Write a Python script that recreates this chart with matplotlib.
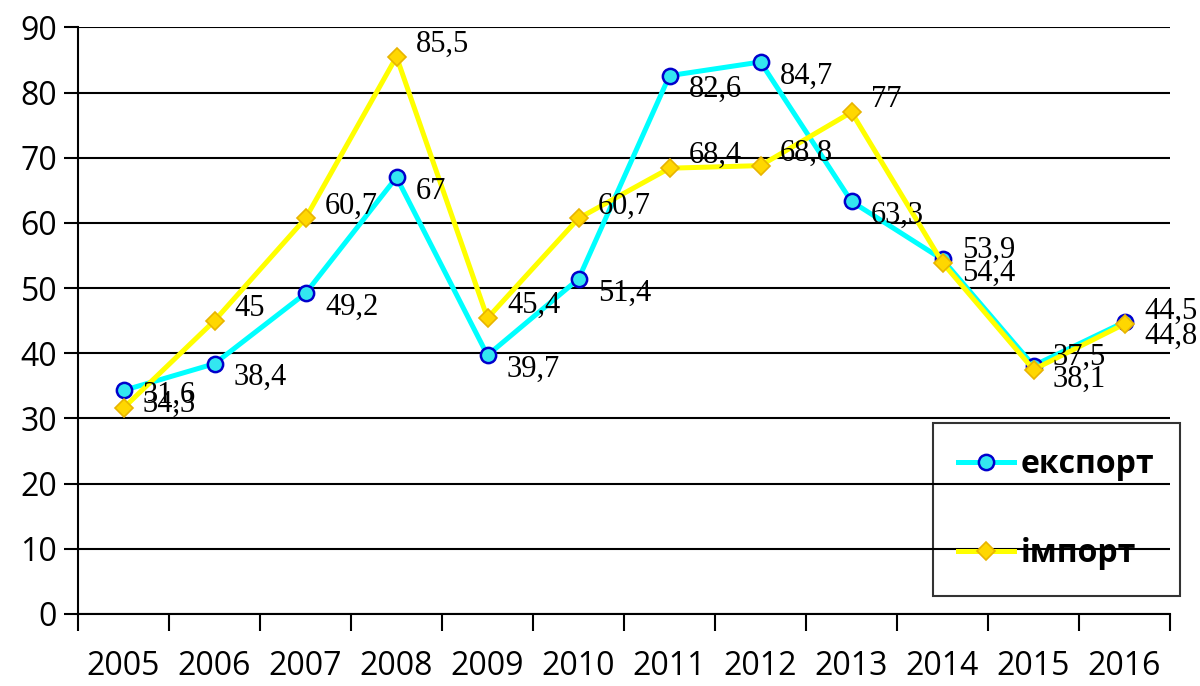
import matplotlib

matplotlib.use("Agg")
import matplotlib.pyplot as plt

years = ["2005", "2006", "2007", "2008", "2009", "2010",
         "2011", "2012", "2013", "2014", "2015", "2016"]
export = [34.3, 38.4, 49.2, 67, 39.7, 51.4, 82.6, 84.7, 63.3, 54.4, 38.1, 44.8]
imports = [31.6, 45, 60.7, 85.5, 45.4, 60.7, 68.4, 68.8, 77, 53.9, 37.5, 44.5]
yticks = [0, 10, 20, 30, 40, 50, 60, 70, 80, 90]


def fmt(v):
    s = f"{v:g}"
    return s.replace(".", ",")


fig = plt.figure(figsize=(12, 6.86), dpi=100)
ax = fig.add_axes([0.065, 0.105, 0.91, 0.855])

x = list(range(len(years)))
ax.plot(x, export, color="#00FFFF", lw=3.6, marker="o", ms=11,
        mfc="#33E6F0", mec="#0000CC", mew=1.8, label="експорт", zorder=4)
ax.plot(x, imports, color="#FFFF00", lw=3.6, marker="D", ms=9,
        mfc="#FFD700", mec="#E8B400", mew=1.2, label="імпорт", zorder=5)

# export labels sit below-right of the point, import labels above-right
for xi, v in zip(x, export):
    ax.annotate(fmt(v), (xi, v), xytext=(14, -10), textcoords="offset points",
                ha="left", va="center", fontsize=22, family="Liberation Serif",
                zorder=6)
for xi, v in zip(x, imports):
    ax.annotate(fmt(v), (xi, v), xytext=(14, 9), textcoords="offset points",
                ha="left", va="center", fontsize=22, family="Liberation Serif",
                zorder=6)

ax.set_xlim(-0.5, len(years) - 0.5)
ax.set_ylim(0, 90)
ax.set_yticks(yticks)
ax.set_yticklabels([str(t) for t in yticks], fontsize=23, family="Open Sans")
ax.yaxis.grid(True, color="black", lw=1.5)
ax.set_axisbelow(True)

# year labels at category centres, tick marks at category boundaries
ax.set_xticks(x)
ax.set_xticklabels(years, fontsize=23, family="Open Sans")
ax.tick_params(axis="x", length=0, pad=26)
ax.set_xticks([i - 0.5 for i in range(len(years) + 1)], minor=True)
ax.tick_params(axis="x", which="minor", length=12, width=1.5, direction="out")
ax.tick_params(axis="y", length=10, width=1.5, direction="out", pad=5)

for side in ("top", "right"):
    ax.spines[side].set_visible(False)
for side in ("left", "bottom"):
    ax.spines[side].set_linewidth(1.5)

leg = ax.legend(loc="lower right", bbox_to_anchor=(1.009, 0.031),
                prop={"family": "Open Sans", "weight": "bold", "size": 23},
                frameon=True, fancybox=False, edgecolor="black",
                facecolor="none", labelspacing=1.75, handlelength=1.75,
                borderpad=0.8, handletextpad=0.2, borderaxespad=0)
leg.get_frame().set_linewidth(1.5)
leg.set_zorder(7)

fig.savefig("out.png", dpi=100)
